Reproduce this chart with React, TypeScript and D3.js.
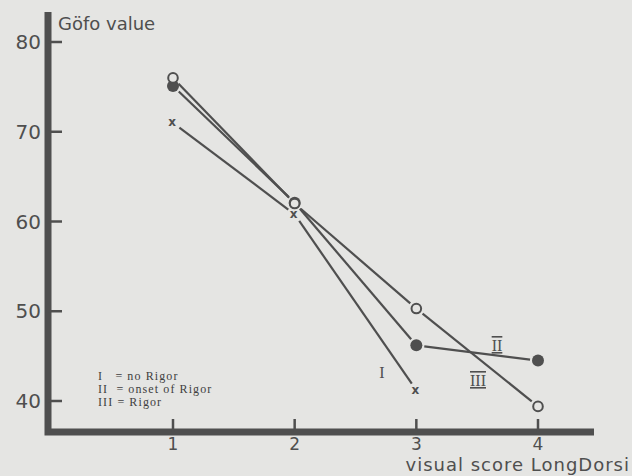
import * as d3 from "d3";

const scores = [1, 2, 3, 4];
const yTicks = [40, 50, 60, 70, 80];

// Göfo value per visual score
const noRigor = [71.0, 60.8, 41.2];
const onsetRigor = [75.1, 62.1, 46.2, 44.5];
const rigor = [76.0, 62.0, 50.3, 39.4];

const legendLines = ["I   = no Rigor", "II  = onset of Rigor", "III = Rigor"];

const W = 632;
const H = 476;
const ink = "#4f4f4f";

type Pt = { x: number; y: number };

export default function App() {
  const x = d3.scaleLinear().domain([1, 4]).range([173, 538]);
  const y = d3.scaleLinear().domain([40, 80]).range([401, 42]);

  const toPts = (vals: number[]): Pt[] =>
    vals.map((v, i) => ({ x: x(scores[i]), y: y(v) }));

  // segments leave a small gap around each marker, as in the print
  const segments = (pts: Pt[], gap = 8) =>
    d3.pairs(pts).map(([a, b]) => {
      const dx = b.x - a.x;
      const dy = b.y - a.y;
      const len = Math.hypot(dx, dy);
      const ux = dx / len;
      const uy = dy / len;
      return {
        x1: a.x + ux * gap,
        y1: a.y + uy * gap,
        x2: b.x - ux * gap,
        y2: b.y - uy * gap,
      };
    });

  const series = [
    { pts: toPts(noRigor), kind: "x" },
    { pts: toPts(onsetRigor), kind: "filled" },
    { pts: toPts(rigor), kind: "open" },
  ];

  const axisX0 = 48;
  const axisY0 = 432;

  return (
    <svg
      width={W}
      height={H}
      style={{ position: "absolute", left: 0, top: 0 }}
      fontFamily="'DejaVu Sans', sans-serif"
    >
      <rect width={W} height={H} fill="#e5e5e3" />

      {/* axes */}
      <path
        d={`M${axisX0},${12} L${axisX0},${axisY0} L${594},${axisY0}`}
        fill="none"
        stroke={ink}
        strokeWidth={7}
        strokeLinejoin="miter"
      />
      {yTicks.map((t) => (
        <g key={t}>
          <line x1={axisX0} x2={62} y1={y(t)} y2={y(t)} stroke={ink} strokeWidth={2.5} />
          <text
            x={41}
            y={y(t)}
            dy="0.36em"
            textAnchor="end"
            fontSize={20}
            fill={ink}
          >
            {t}
          </text>
        </g>
      ))}
      {scores.map((s) => (
        <g key={s}>
          <line x1={x(s)} x2={x(s)} y1={axisY0} y2={419} stroke={ink} strokeWidth={2.5} />
          <text x={x(s)} y={450} textAnchor="middle" fontSize={17} fill={ink}>
            {s}
          </text>
        </g>
      ))}
      <text x={58} y={30} fontSize={18} fill={ink}>
        Göfo value
      </text>
      <text x={630} y={471} textAnchor="end" fontSize={18} letterSpacing={1} fill={ink}>
        visual score LongDorsi
      </text>

      {/* lines */}
      {series.map((s, i) =>
        segments(s.pts).map((seg, j) => (
          <line key={`${i}-${j}`} {...seg} stroke={ink} strokeWidth={2.2} />
        ))
      )}

      {/* markers */}
      {series.map((s, i) =>
        s.pts.map((p, j) =>
          s.kind === "x" ? (
            <text
              key={`${i}-${j}`}
              x={p.x - 1}
              y={p.y}
              dy="0.3em"
              textAnchor="middle"
              fontSize={12}
              fontWeight="bold"
              fill={ink}
            >
              x
            </text>
          ) : s.kind === "filled" ? (
            <circle key={`${i}-${j}`} cx={p.x} cy={p.y} r={6} fill={ink} />
          ) : (
            <circle
              key={`${i}-${j}`}
              cx={p.x}
              cy={p.y}
              r={4.8}
              fill="#e5e5e3"
              stroke={ink}
              strokeWidth={2}
            />
          )
        )
      )}

      {/* curve labels */}
      <g fontFamily="'Liberation Serif', serif" fontSize={16} fill={ink}>
        <text x={382} y={378} textAnchor="middle">I</text>
        <text x={497} y={351} textAnchor="middle" style={{ textDecoration: "overline underline" }}>II</text>
        <text x={478} y={386} textAnchor="middle" style={{ textDecoration: "overline underline" }}>III</text>
      </g>

      {/* legend */}
      <g fontFamily="'Liberation Serif', serif" fontSize={12} fill="#3f3f3f" letterSpacing={1.1}>
        {legendLines.map((l, i) => (
          <text key={i} x={98} y={380 + i * 13} style={{ whiteSpace: "pre" }}>
            {l}
          </text>
        ))}
      </g>
    </svg>
  );
}
